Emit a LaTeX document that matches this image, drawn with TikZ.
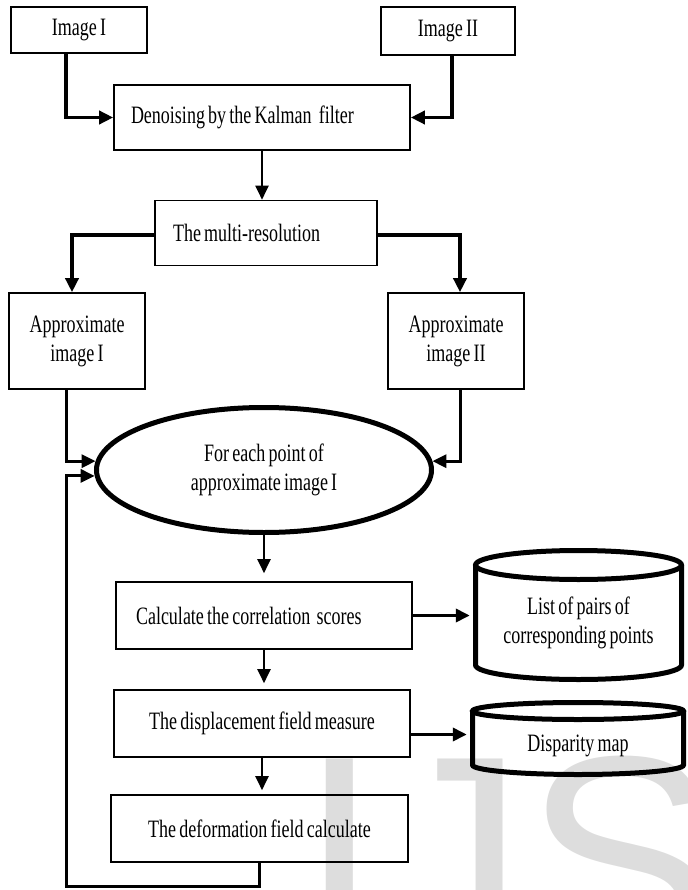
\documentclass[tikz,border=0pt]{standalone}
\usepackage{fontspec}
\setmainfont[FakeStretch=0.72, WordSpace=0.72]{Liberation Serif}
\newfontfamily\wmfont{Liberation Sans}
\usetikzlibrary{shapes.geometric,arrows.meta,calc}
\definecolor{wm}{HTML}{DDDDDD}
\newcommand\normsp{\spaceskip=0pt\xspaceskip=0pt\relax}
\begin{document}
\begin{tikzpicture}[x=1pt,y=-1pt,
  font=\fontsize{25}{29}\selectfont,
  box/.style={draw, line width=1.6pt, rectangle, inner sep=0pt, align=center},
  arr/.style={-{Triangle[length=14pt,width=13pt]}, line width=2pt},
  marr/.style={arr, line width=3pt},
  tarr/.style={arr, line width=3.8pt},
  cyl/.style={line width=5pt}]
\useasboundingbox (0,0) rectangle (687,890);
% watermark
\begin{scope}
  \clip (0,0) rectangle (687,890);
  \node[anchor=base west, inner sep=0, text=wm, font=\wmfont\fontsize{290}{290}\selectfont] (wmk) at (299,958) {IJS};
\end{scope}
% boxes
\node[box, minimum width=136pt, minimum height=46pt] (img1) at (79,30) {Image I};
\node[box, minimum width=134pt, minimum height=48pt] (img2) at (448,31) {Image II};
\node[box, minimum height=65pt, text width=262pt, inner xsep=17pt, align=left] (den) at (262,117.5) {\normsp Denoising by the Kalman\hspace{4pt} filter};
\node[box, minimum height=65pt, text width=186pt, inner xsep=18pt, align=left] (mr) at (266,233) {\normsp The multi-resolution};
\node[box, minimum width=136pt, minimum height=96pt] (ap1) at (77,341) {Approximate\\image I};
\node[box, minimum width=136pt, minimum height=96pt] (ap2) at (456,341) {Approximate\\image II};
\node[draw, ellipse, line width=5pt, minimum width=335pt, minimum height=125pt, inner sep=0pt, align=center] (ell) at (264,470) {For each point of\\approximate image I};
\node[box, minimum height=67pt, text width=256pt, inner xsep=20pt, align=left] (calc) at (264,615.5) {\normsp Calculate the correlation\hspace{3pt} scores};
\node[box, minimum width=296pt, minimum height=67pt] (disp) at (262,723.5) {The displacement field measure};
\node[box, minimum width=297pt, minimum height=67pt] (defo) at (259.5,828.5) {The deformation field calculate};
% cylinders
\node[inner sep=0pt, minimum width=211pt, align=center] (cyl1) at (578.5,623) {List of pairs of\\corresponding points};
\draw[cyl] (475.5,565) -- (475.5,665) arc[start angle=180, end angle=360, x radius=103pt, y radius=14.5pt] -- (681.5,565);
\draw[cyl] (578.5,565) ellipse [x radius=103pt, y radius=14.5pt];
\node[inner sep=0pt, minimum width=216pt, align=center] (cyl2) at (578,746) {Disparity map};
\draw[cyl] (472.5,711) -- (472.5,765) arc[start angle=180, end angle=360, x radius=105.5pt, y radius=9.5pt] -- (683.5,711);
\draw[cyl] (578,711) ellipse [x radius=105.5pt, y radius=8.5pt];
% connectors
\draw[tarr] ([xshift=-13pt]img1.south) |- (den.west);
\draw[tarr] ([xshift=4pt]img2.south) |- (den.east);
\draw[arr] (den.south) -- (den.south |- mr.north);
\draw[tarr] ([yshift=-2pt]mr.west) -| ([xshift=-5pt]ap1.north);
\draw[tarr] ([yshift=-2pt]mr.east) -| ([xshift=4pt]ap2.north);
\draw[marr] ([xshift=-11pt]ap1.south) |- (ell.177);
\draw[marr] ([xshift=4pt]ap2.south) |- (ell.3);
\draw[arr, shorten >=8pt] (ell.south) -- (ell.south |- calc.north);
\draw[tarr, shorten >=3pt] (calc.east) -- (calc.east -| cyl1.west);
\draw[arr, shorten >=6pt] (calc.south) -- (calc.south |- disp.north);
\draw[tarr, shorten >=3pt] ([yshift=-11pt]disp.east) -- ([yshift=-11pt]disp.east -| cyl2.west);
\draw[arr, shorten >=4pt] (disp.south) -- (disp.south |- defo.north);
\coordinate (lp) at (66,886);
\draw[marr] (defo.south) |- (lp) |- (ell.182);
\end{tikzpicture}
\end{document}
